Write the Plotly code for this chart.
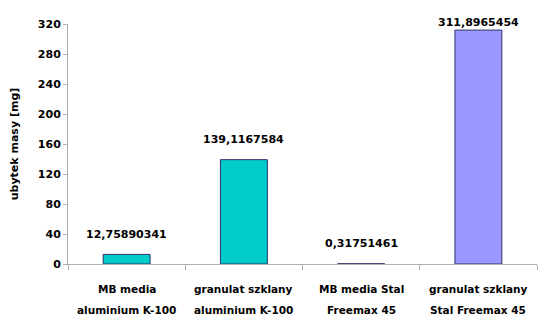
import plotly.graph_objects as go

categories = ["MB media aluminium K-100", "granulat szklany aluminium K-100",
              "MB media Stal Freemax 45", "granulat szklany Stal Freemax 45"]
label_line1 = ["MB media", "granulat szklany", "MB media Stal", "granulat szklany"]
label_line2 = ["aluminium K-100", "aluminium K-100", "Freemax 45", "Stal Freemax 45"]
values = [12.75890341, 139.1167584, 0.31751461, 311.8965454]
value_labels = ["12,75890341", "139,1167584", "0,31751461", "311,8965454"]
colors = ["#00CCCC", "#00CCCC", "#9999FF", "#9999FF"]
y_ticks = [0, 40, 80, 120, 160, 200, 240, 280, 320]

FONT = "DejaVu Sans"
Y_MAX = 320
PLOT_H = 240
px_per_unit = PLOT_H / Y_MAX

fig = go.Figure(go.Bar(
    x=categories, y=values, width=0.4,
    marker=dict(color=colors, line=dict(color="#333366", width=1)),
))

for c, v, t in zip(categories, values, value_labels):
    shift = min(20, (Y_MAX - v) * px_per_unit + 2)
    fig.add_annotation(x=c, y=v, yshift=shift, text=t, showarrow=False,
                       yanchor="middle",
                       font=dict(family=FONT, size=11, color="black", weight="bold"))

for c, l1, l2 in zip(categories, label_line1, label_line2):
    fig.add_annotation(x=c, y=0, yref="paper", yshift=-25, text=l1, showarrow=False,
                       yanchor="middle",
                       font=dict(family=FONT, size=10.5, color="black", weight="bold"))
    fig.add_annotation(x=c, y=0, yref="paper", yshift=-46, text=l2, showarrow=False,
                       yanchor="middle",
                       font=dict(family=FONT, size=10.5, color="black", weight="bold"))

fig.update_layout(
    width=550, height=327,
    margin=dict(l=68, r=13, t=24, b=63),
    paper_bgcolor="white", plot_bgcolor="white",
    font=dict(family=FONT, size=11, color="black"),
    showlegend=False,
    xaxis=dict(showline=True, linecolor="#B0B0B0", ticks="outside", ticklen=5,
               tickcolor="#B0B0B0", tickson="boundaries", showgrid=False,
               showticklabels=False),
    yaxis=dict(range=[0, Y_MAX], tickvals=y_ticks, showline=True, linecolor="#B0B0B0",
               ticks="outside", ticklen=4, tickcolor="#B0B0B0", showgrid=False,
               zeroline=False,
               tickfont=dict(family=FONT, size=11, color="black", weight="bold"),
               title=dict(text="ubytek masy [mg]", standoff=16,
                          font=dict(family=FONT, size=11, color="black", weight="bold"))),
)
fig.write_html("out.html")
